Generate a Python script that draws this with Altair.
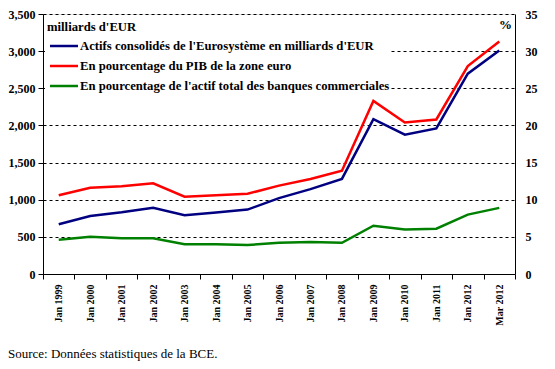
import altair as alt
import pandas as pd

dates = ["Jan 1999", "Jan 2000", "Jan 2001", "Jan 2002", "Jan 2003", "Jan 2004",
         "Jan 2005", "Jan 2006", "Jan 2007", "Jan 2008", "Jan 2009", "Jan 2010",
         "Jan 2011", "Jan 2012", "Mar 2012"]
actifs = [670, 780, 830, 890, 790, 827, 867, 1022, 1142, 1280, 2084, 1876, 1960, 2697, 3010]
pib = [10.6, 11.6, 11.8, 12.2, 10.4, 10.6, 10.8, 11.9, 12.8, 13.9, 23.3, 20.4, 20.8, 28.0, 31.3]
actif_bq = [4.6, 5.0, 4.8, 4.8, 4.0, 4.0, 3.9, 4.2, 4.3, 4.2, 6.5, 6.0, 6.1, 8.0, 8.9]

s1 = "Actifs consolidés de l'Eurosystème en milliards d'EUR"
s2 = "En pourcentage du PIB de la zone euro"
s3 = "En pourcentage de l'actif total des banques commerciales"
series = [s1, s2, s3]
colors = ["#000080", "#FF0000", "#008000"]

FONT = "Liberation Serif"

df_left = pd.DataFrame({"date": dates, "value": actifs, "serie": s1})
df_right = pd.concat([
    pd.DataFrame({"date": dates, "value": pib, "serie": s2}),
    pd.DataFrame({"date": dates, "value": actif_bq, "serie": s3}),
])

xenc = alt.X("date:N", sort=dates, bandPosition=0.5,
             scale=alt.Scale(type="band", paddingInner=0, paddingOuter=0),
             axis=alt.Axis(title=None, labelAngle=-90, labelAlign="right", labelBaseline="middle",
                           labelFont=FONT, labelFontWeight="bold", labelFontSize=10, labelColor="black",
                           tickBand="extent", tickSize=5, tickColor="black", domainColor="black",
                           labelPadding=5, grid=False))
color = alt.Color("serie:N", scale=alt.Scale(domain=series, range=colors), legend=None)

left = alt.Chart(df_left).mark_line(strokeWidth=2.5).encode(
    x=xenc,
    y=alt.Y("value:Q", scale=alt.Scale(domain=[0, 3500], nice=False),
            axis=alt.Axis(title=None, values=list(range(0, 3501, 500)), format=",.0f",
                          labelFont=FONT, labelFontWeight="bold", labelFontSize=12, labelColor="black",
                          tickSize=5, tickColor="black", domainColor="black", labelPadding=3,
                          grid=True, gridColor="black", gridDash=[3, 3], gridWidth=1, gridOpacity=1)),
    color=color,
)

right = alt.Chart(df_right).mark_line(strokeWidth=2.5).encode(
    x=xenc,
    y=alt.Y("value:Q", scale=alt.Scale(domain=[0, 35], nice=False),
            axis=alt.Axis(title=None, orient="right", values=list(range(0, 36, 5)),
                          labelFont=FONT, labelFontWeight="bold", labelFontSize=12, labelColor="black",
                          ticks=False, domainColor="black", labelPadding=10, grid=False)),
    color=color,
    detail="serie:N",
)

one = pd.DataFrame({"k": [0]})
bg = alt.Chart(one).mark_rect(color="white").encode(
    x=alt.value(2), x2=alt.value(347), y=alt.value(18), y2=alt.value(78))

ann = []
ann.append(alt.Chart(one).mark_text(text="milliards d'EUR", font=FONT, fontWeight="bold", fontSize=12.7,
                                    align="left", baseline="middle", color="black").encode(
    x=alt.value(4), y=alt.value(12.5)))
ann.append(alt.Chart(one).mark_text(text="%", font=FONT, fontWeight="bold", fontSize=13,
                                    align="right", baseline="middle", color="black").encode(
    x=alt.value(469), y=alt.value(11)))
rows = [32, 52, 72]
for name, col, yy in zip(series, colors, rows):
    ann.append(alt.Chart(one).mark_rule(color=col, strokeWidth=2.5).encode(
        x=alt.value(7), x2=alt.value(35), y=alt.value(yy)))
    ann.append(alt.Chart(one).mark_text(text=name, font=FONT, fontWeight="bold", fontSize=12.7,
                                        align="left", baseline="middle", color="black").encode(
        x=alt.value(37), y=alt.value(yy)))
ann.append(alt.Chart(one).mark_text(text="Source: Données statistiques de la BCE.", font=FONT,
                                    fontSize=13, align="left", baseline="alphabetic", color="black").encode(
    x=alt.value(-35), y=alt.value(344)))

chart = alt.layer(left, right, bg, *ann).resolve_scale(y="independent").properties(
    width=472, height=260,
    autosize=alt.AutoSizeParams(type="none"),
    padding={"left": 35, "top": 6, "right": 30, "bottom": 87},
).configure_view(stroke=None).configure(background="white")

chart.save("out.html", embed_options={"renderer": "svg", "actions": False})
